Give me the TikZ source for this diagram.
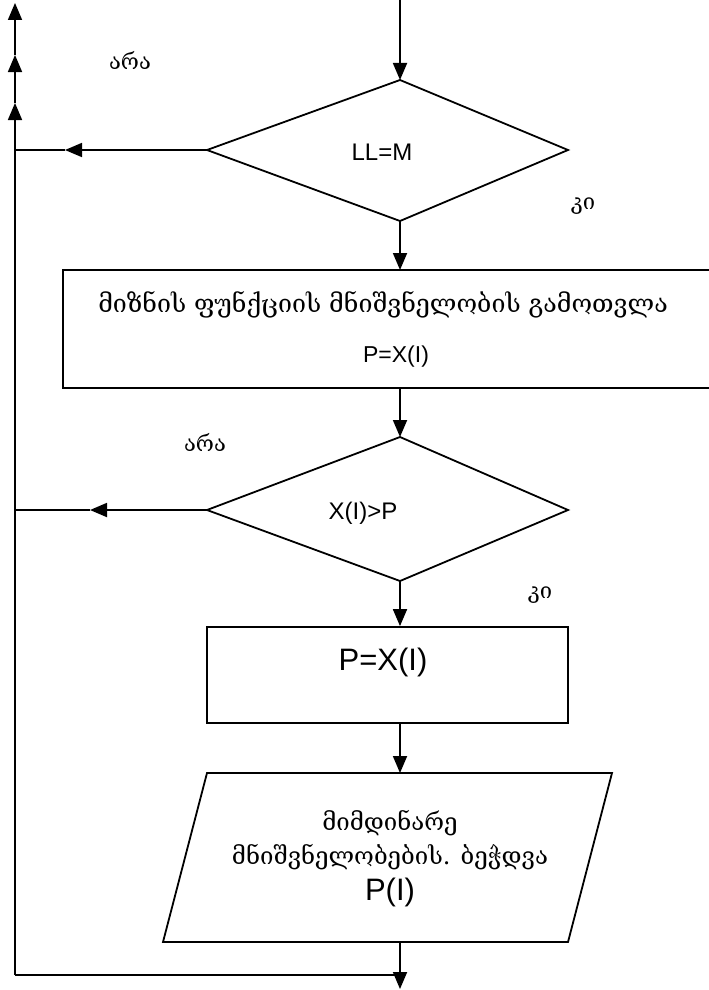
\documentclass[tikz,border=0pt]{standalone}
\usepackage{fontspec}
\setmainfont{Liberation Sans}
\newfontfamily\geo{DejaVu Serif}
\usetikzlibrary{arrows.meta}

\begin{document}
\begin{tikzpicture}[x=1pt,y=-1pt,line width=1.8pt,
  tip/.style={-{Triangle[length=17pt,width=14pt]}},
  small/.style={font=\fontsize{24}{28}\selectfont,inner sep=0pt},
  lbl/.style={font=\geo\fontsize{22}{24}\selectfont,inner sep=0pt},
  geotext/.style={font=\geo\fontsize{24}{34}\selectfont,align=center,inner sep=0pt},
  bigtext/.style={font=\fontsize{31}{36}\selectfont,inner sep=0pt}]
\useasboundingbox (0,0) rectangle (709,990);

% entry line from the top
\coordinate (start) at (400,0);

% first decision
\coordinate (d1n) at (400,80);
\coordinate (d1e) at (568,150);
\coordinate (d1s) at (400,221);
\coordinate (d1w) at (207,150);
\draw (d1n) -- (d1e) -- (d1s) -- (d1w) -- cycle;
\node[small] (d1t) at (382,152) {LL=M};
\draw[tip] (start) -- (d1n);

% calculation block (open on the right)
\coordinate (r1tl) at (63,270);
\coordinate (r1bl) at (63,388);
\draw (712,270) -- (r1tl) -- (r1bl) -- (712,388);
\node[geotext,font=\geo\fontsize{25}{30}\selectfont] (r1a) at (383,305) {მიზნის ფუნქციის მნიშვნელობის გამოთვლა};
\node[small,font=\fontsize{23}{26}\selectfont] (r1b) at (396,357) {P=X(I)};
\coordinate (r1top) at (400,270);
\coordinate (r1bot) at (400,388);
\draw[tip] (d1s) -- (r1top);

% second decision
\coordinate (d2n) at (400,437);
\coordinate (d2e) at (568,510);
\coordinate (d2s) at (400,581);
\coordinate (d2w) at (207,510);
\draw (d2n) -- (d2e) -- (d2s) -- (d2w) -- cycle;
\node[small] (d2t) at (363,513) {X(I)>P};
\draw[tip] (r1bot) -- (d2n);

% assignment block
\node[draw,rectangle,inner sep=0pt,minimum width=361pt,minimum height=96pt] (r2) at (387.5,675) {};
\node[bigtext] (r2t) at (383,662) {P=X(I)};
\draw[tip] (d2s) -- (r2.north -| start);

% output block
\coordinate (p1) at (207,773);
\coordinate (p2) at (612,773);
\coordinate (p3) at (568,942);
\coordinate (p4) at (163,942);
\draw (p1) -- (p2) -- (p3) -- (p4) -- cycle;
\node[geotext] (pt) at (390,840) {მიმდინარე\\მნიშვნელობების. ბეჭდვა};
\node[bigtext] (pi) at (390,892) {P(I)};
\coordinate (ptop) at (400,773);
\draw[tip] (r2.south -| start) -- (ptop);

% exit and loop-back line
\coordinate (pb) at (400,942);
\coordinate (exit) at (400,989);
\coordinate (join) at (400,975);
\coordinate (lb) at (15,975);
\coordinate (la) at (15,103);
\coordinate (lm) at (15,55);
\coordinate (lt) at (15,3);
\draw[tip] (pb) -- (exit);
\draw (join) -- (lb);
\draw[tip] (lb) -- (la);
\draw[tip] (la) -- (lm);
\draw[tip] (lm) -- (lt);

% "no" branches back to the left line
\coordinate (n1) at (65,150);
\draw[tip] (d1w) -- (n1);
\draw (n1) -- (d1w -| lb);
\coordinate (n2) at (90,510);
\draw[tip] (d2w) -- (n2);
\draw (n2) -- (d2w -| lb);

% branch labels
\node[lbl] (no1) at (130,60) {არა};
\node[lbl] (yes1) at (583,206) {კი};
\node[lbl] (no2) at (205,442) {არა};
\node[lbl] (yes2) at (540,595) {კი};
\end{tikzpicture}
\end{document}
